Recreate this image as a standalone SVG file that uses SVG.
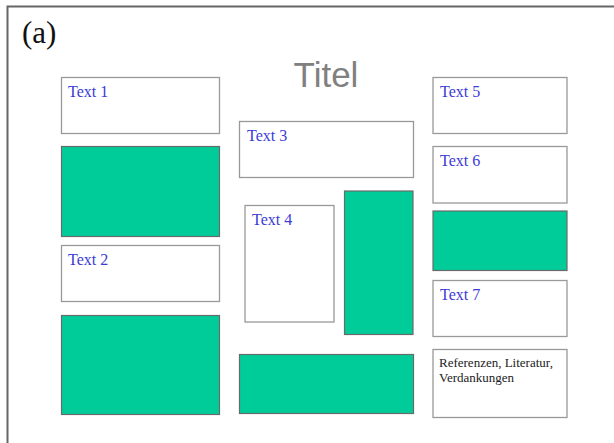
<svg xmlns="http://www.w3.org/2000/svg" width="614" height="443" viewBox="0 0 614 443">
<style>
.box{fill:#ffffff;stroke:#999999;stroke-width:1.3}
.green{fill:#00cc99;stroke:#6a6a6a;stroke-width:1.2}
.lbl{font-family:"Liberation Serif",serif;font-size:16px;fill:#3b3bd6}
.ref{font-family:"Liberation Serif",serif;font-size:13px;fill:#222222}
</style>
<rect width="614" height="443" fill="#ffffff"/>
<path d="M7.5,443 V6.5 H614" fill="none" stroke="#666666" stroke-width="2"/>
<text x="22" y="43" font-family="Liberation Serif,serif" font-size="31" fill="#111111">(a)</text>
<text x="326" y="87" text-anchor="middle" font-family="Liberation Sans,Arial,sans-serif" font-size="35" fill="#808080">Titel</text>
<g id="text1"><rect class="box" x="61.5" y="77.5" width="158" height="56"/><text class="lbl" x="68" y="97">Text 1</text></g>
<g id="green1"><rect class="green" x="61.5" y="146.5" width="158" height="90"/></g>
<g id="text2"><rect class="box" x="61.5" y="245.5" width="158" height="56"/><text class="lbl" x="68" y="265">Text 2</text></g>
<g id="green2"><rect class="green" x="61.5" y="315.5" width="158" height="99"/></g>
<g id="text3"><rect class="box" x="239.5" y="121.5" width="174" height="56"/><text class="lbl" x="247" y="141">Text 3</text></g>
<g id="text4"><rect class="box" x="245" y="205.5" width="89" height="116.5"/><text class="lbl" x="252" y="225">Text 4</text></g>
<g id="green3"><rect class="green" x="344.5" y="191" width="68.5" height="143.5"/></g>
<g id="green4"><rect class="green" x="239.5" y="354.5" width="174" height="59"/></g>
<g id="text5"><rect class="box" x="433" y="77.5" width="134" height="56"/><text class="lbl" x="440" y="97">Text 5</text></g>
<g id="text6"><rect class="box" x="433" y="146.5" width="134" height="56.5"/><text class="lbl" x="440" y="166">Text 6</text></g>
<g id="green5"><rect class="green" x="433" y="211" width="134" height="59.5"/></g>
<g id="text7"><rect class="box" x="433" y="280.5" width="134" height="56"/><text class="lbl" x="440" y="300">Text 7</text></g>
<g id="refs"><rect class="box" x="433" y="349.5" width="134" height="68"/><text class="ref" x="439" y="367">Referenzen, Literatur,</text><text class="ref" x="439" y="382">Verdankungen</text></g>
<g id="connectors"></g>
</svg>
